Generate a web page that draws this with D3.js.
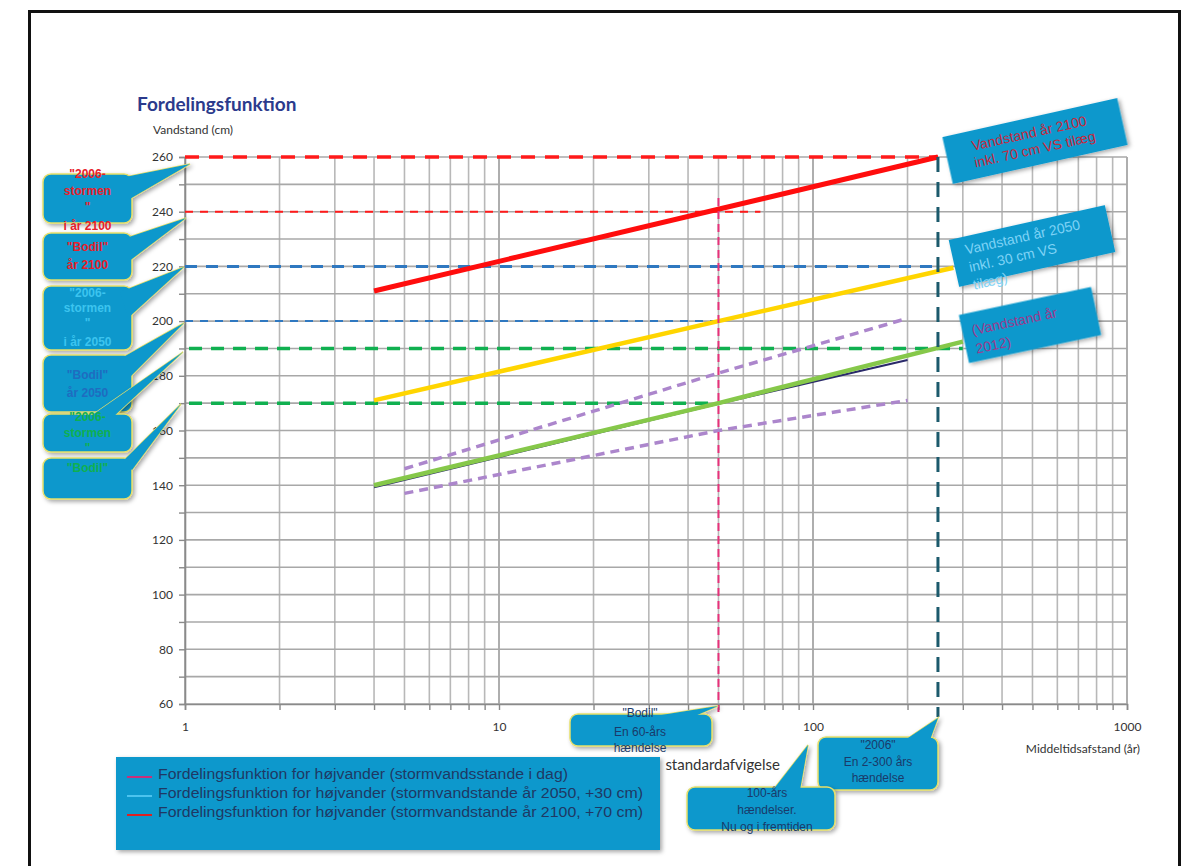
<!DOCTYPE html>
<html><head><meta charset="utf-8">
<script src="https://cdn.jsdelivr.net/npm/d3@7"></script>
<style>body{margin:0;background:#fff}svg{display:block}</style>
</head><body>
<svg id="c" width="1186" height="866"></svg>
<script>
// ---- data ----
const xTickLabels = [1, 10, 100, 1000];
const yTickLabels = [60, 80, 100, 120, 140, 160, 180, 200, 220, 240, 260];
const redLine = [[4, 211], [250, 260]];
const yellowLine = [[4, 171], [50, 200], [280, 219.5]];
const greenLine = [[4, 140], [50, 170], [300, 192.5]];
const navyLine = [[4, 139.2], [50, 169.8], [200, 185.8]];
const purpleUpper = [[5, 146], [50, 181], [200, 201]];
const purpleLower = [[5, 137], [50, 160], [200, 171]];
const refLevels = [260, 240, 220, 200, 190, 170];
const refLevelStart = [1, 1, 1, 1, 1.03, 1.03];
const refLevelEnd = [250, 68, 250, 50, 300, 50];
const vMarkers = [50, 250];
const vMarkerTop = [245, 260];
const legendLabels = [
  "Fordelingsfunktion  for højvander  (stormvandsstande   i dag)",
  "Fordelingsfunktion  for højvander  (stormvandstande   år 2050, +30 cm)",
  "Fordelingsfunktion  for højvander  (stormvandstande   år 2100, +70 cm)"
];

// ---- setup ----
const svg = d3.select("#c");
const x = d3.scaleLog().domain([1, 1000]).range([185, 1127]);
const y = d3.scaleLinear().domain([60, 260]).range([704, 157]);
const font = "Lato, 'Open Sans', sans-serif";
const arial = "'Liberation Sans', Arial, sans-serif";

const defs = svg.append("defs");
const f = defs.append("filter").attr("id", "sh").attr("x", "-20%").attr("y", "-20%").attr("width", "150%").attr("height", "150%");
f.append("feDropShadow").attr("dx", 2).attr("dy", 2).attr("stdDeviation", 2).attr("flood-color", "#000").attr("flood-opacity", 0.35);

// page border
svg.append("rect").attr("x", 29.5).attr("y", 11.5).attr("width", 1150).attr("height", 880)
  .attr("fill", "none").attr("stroke", "#111").attr("stroke-width", 3);

// title
svg.append("text").attr("x", 137).attr("y", 111).text("Fordelingsfunktion")
  .attr("font-family", font).attr("font-weight", "bold").attr("font-size", 19).attr("fill", "#2b3a8c");
svg.append("text").attr("x", 153).attr("y", 134).text("Vandstand (cm)")
  .attr("font-family", font).attr("font-size", 12).attr("fill", "#333");

// grid
const xGrid = [];
for (let d = 1; d < 1000; d *= 10) for (let k = 1; k < 10; k++) xGrid.push(d * k);
xGrid.push(1000);
const g = svg.append("g");
g.selectAll(".vg").data(xGrid).join("line")
  .attr("x1", d => x(d)).attr("x2", d => x(d)).attr("y1", y(260)).attr("y2", y(60))
  .attr("stroke", d => xTickLabels.includes(d) ? "#9a9a9a" : "#b8b8b8").attr("stroke-width", 1.6);
g.selectAll(".hg").data(d3.range(60, 261, 10)).join("line")
  .attr("x1", x(1)).attr("x2", x(1000)).attr("y1", d => y(d)).attr("y2", d => y(d))
  .attr("stroke", "#a8a8a8").attr("stroke-width", 1.6);

// axes
const yAx = svg.append("g").attr("transform", `translate(${x(1)},0)`)
  .call(d3.axisLeft(y).tickValues(d3.range(60, 261, 10)).tickSize(6).tickPadding(6)
    .tickFormat(d => yTickLabels.includes(d) ? d : ""));
const xAx = svg.append("g").attr("transform", `translate(0,${y(60)})`)
  .call(d3.axisBottom(x).tickValues(xGrid).tickSize(6).tickPadding(12)
    .tickFormat(d => xTickLabels.includes(d) ? d : ""));
[yAx, xAx].forEach(a => {
  a.selectAll("path").attr("stroke", "#8a8a8a").attr("stroke-width", 1.6);
  a.selectAll("line").attr("stroke", "#8a8a8a").attr("stroke-width", 1.4);
  a.selectAll("text").attr("font-family", font).attr("font-size", 12).attr("fill", "#333");
});

svg.append("text").attr("x", 1140).attr("y", 753).attr("text-anchor", "end").text("Middeltidsafstand (år)")
  .attr("font-family", font).attr("font-size", 12).attr("fill", "#333");
svg.append("text").attr("x", 780).attr("y", 770).attr("text-anchor", "end")
  .text("standardafvigelse")
  .attr("font-family", font).attr("font-size", 15).attr("fill", "#333");

// reference dashed levels
const refStyle = [
  {c: "#ff1a1a", w: 3.5, d: "14,10"},
  {c: "#ff1a1a", w: 2, d: "8,7"},
  {c: "#2f78c0", w: 3, d: "12,9"},
  {c: "#2f78c0", w: 2, d: "8,7"},
  {c: "#10b050", w: 3.5, d: "13,9"},
  {c: "#10b050", w: 3.5, d: "13,9"}
];
refLevels.forEach((v, i) => {
  svg.append("line").attr("x1", x(refLevelStart[i])).attr("x2", x(refLevelEnd[i]))
    .attr("y1", y(v)).attr("y2", y(v))
    .attr("stroke", refStyle[i].c).attr("stroke-width", refStyle[i].w).attr("stroke-dasharray", refStyle[i].d);
});

// series
const line = d3.line().x(d => x(d[0])).y(d => y(d[1]));
const series = [
  {data: purpleUpper, c: "#ac86cc", w: 3.5, d: "9,6"},
  {data: purpleLower, c: "#ac86cc", w: 3.5, d: "9,6"},
  {data: yellowLine, c: "#ffd500", w: 4.5},
  {data: navyLine, c: "#2a2a6a", w: 2},
  {data: greenLine, c: "#86c84a", w: 4.5},
  {data: redLine, c: "#ff0d0d", w: 5}
];
series.forEach(s => {
  svg.append("path").attr("d", line(s.data)).attr("fill", "none")
    .attr("stroke", s.c).attr("stroke-width", s.w).attr("stroke-dasharray", s.d || null);
});

// vertical markers
const vStyle = [{c: "#e8307a", w: 2, d: "8,5", b: 712}, {c: "#1c5a6c", w: 3, d: "15,10", b: 717}];
vMarkers.forEach((v, i) => {
  svg.append("line").attr("x1", x(v)).attr("x2", x(v)).attr("y1", y(vMarkerTop[i])).attr("y2", vStyle[i].b)
    .attr("stroke", vStyle[i].c).attr("stroke-width", vStyle[i].w).attr("stroke-dasharray", vStyle[i].d);
});

// callouts
const BOX = "#0a98cc", EDGE = "#e6df6a";
function callout(bx, by, bw, bh, tri, lines, color, opts = {}) {
  const gg = svg.append("g").attr("filter", "url(#sh)");
  gg.append("path").attr("d", `M${tri[0]}L${tri[1]}L${tri[2]}Z`).attr("fill", BOX).attr("stroke", EDGE).attr("stroke-width", 1.5);
  gg.append("rect").attr("x", bx).attr("y", by).attr("width", bw).attr("height", bh).attr("rx", 8)
    .attr("fill", BOX).attr("stroke", EDGE).attr("stroke-width", 1.5);
  gg.append("path").attr("d", `M${tri[0]}L${tri[1]}L${tri[2]}Z`).attr("fill", BOX).attr("stroke", "none");
  lines.forEach(l => {
    svg.append("text").attr("x", l[1] ?? bx + bw / 2).attr("y", l[2]).attr("text-anchor", "middle").text(l[0])
      .attr("font-family", opts.font || arial).attr("font-size", opts.size || 12)
      .attr("font-weight", opts.bold ? "bold" : "normal").attr("fill", color);
  });
}
// left callouts
callout(43, 174, 89, 49, [[120, 178], [190, 164], [128, 200]],
  [["\"2006-", null, 178], ["stormen", null, 195], ["\"", null, 211], ["i år 2100", null, 230]], "#e8202a", {bold: true});
callout(43, 233, 89, 47, [[120, 240], [186, 218], [128, 262]],
  [["\"Bodil\"", null, 251], ["år 2100", null, 269]], "#e8202a", {bold: true});
callout(43, 286, 89, 64, [[120, 292], [184, 267], [128, 318]],
  [["\"2006-", null, 297], ["stormen", null, 312], ["\"", null, 327], ["i år 2050", null, 346]], "#3cc4ef", {bold: true});
callout(43, 355, 89, 57, [[118, 360], [184, 323], [129, 378]],
  [["\"Bodil\"", null, 379], ["år 2050", null, 397]], "#1f6cc0", {bold: true});
callout(43, 414, 89, 38, [[88, 418], [183, 352], [112, 418]],
  [["\"2006-", null, 421], ["stormen", null, 437], ["\"", null, 452]], "#10b050", {bold: true});
callout(43, 458, 89, 41, [[122, 462], [181, 404], [132, 470]],
  [["\"Bodil\"", null, 472]], "#10b050", {bold: true});

// bottom callouts
callout(570, 714, 142, 32, [[655, 716], [718, 706], [695, 716]],
  [["\"Bodil\"", 640, 717], ["En 60-års", 640, 736], ["hændelse", 640, 752]], "#1a3a6a");
callout(818, 737, 120, 53, [[905, 740], [938, 718], [930, 740]],
  [["\"2006\"", 878, 749], ["En 2-300 års", 878, 766], ["hændelse", 878, 782]], "#1a3a6a");
callout(687, 787, 148, 43, [[773, 790], [808, 745], [800, 790]],
  [["100-års", 767, 797], ["hændelser.", 767, 814], ["Nu og i fremtiden", 767, 831]], "#1a3a6a");

// rotated right callouts
function tilted(cx, cy, w, h, ang, lines, color, anchor) {
  const gg = svg.append("g").attr("transform", `translate(${cx},${cy}) rotate(${ang})`);
  gg.append("rect").attr("x", -w / 2).attr("y", -h / 2).attr("width", w).attr("height", h).attr("fill", BOX)
    .attr("filter", "url(#sh)");
  lines.forEach(l => {
    gg.append("text").attr("x", l[1]).attr("y", l[2]).attr("text-anchor", anchor).text(l[0])
      .attr("font-family", arial).attr("font-size", 14).attr("fill", color);
  });
}
tilted(1035, 141, 179, 48, -12.6, [["Vandstand  år 2100", -4, -4], ["inkl. 70 cm VS tilæg", -2, 13]], "#c8283c", "middle");
tilted(1032, 246, 160, 48, -12.6, [["Vandstand  år 2050", -66, -6], ["inkl. 30 cm VS", -66, 12], ["tilæg)", -66, 30]], "#7fd3f6", "start");
tilted(1030, 325, 135, 49, -12, [["(Vandstand  år", -58, -2], ["2012)", -58, 17]], "#9c3b8e", "start");

// legend
const lg = svg.append("g");
lg.append("rect").attr("x", 116).attr("y", 757).attr("width", 544).attr("height", 93).attr("fill", BOX)
  .attr("filter", "url(#sh)");
const legendColors = ["#c8307a", "#4cc3ef", "#e02020"];
legendLabels.forEach((t, i) => {
  const yy = 777 + i * 19;
  lg.append("line").attr("x1", 127).attr("x2", 152).attr("y1", yy).attr("y2", yy)
    .attr("stroke", legendColors[i]).attr("stroke-width", 2);
  lg.append("text").attr("x", 158).attr("y", yy + 2).text(t)
    .attr("font-family", arial).attr("font-size", 14).attr("fill", "#1f3864")
    .attr("textLength", i === 0 ? 410 : 485).attr("lengthAdjust", "spacingAndGlyphs");
});
</script>
</body></html>
